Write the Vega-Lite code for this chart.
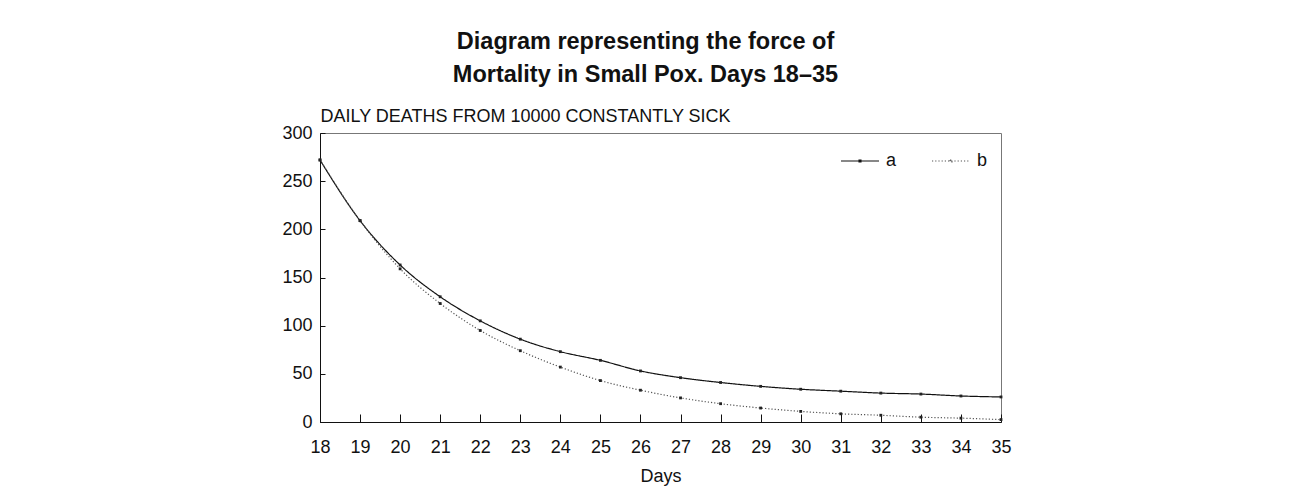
{
  "$schema": "https://vega.github.io/schema/vega-lite/v6.json",
  "width": 681,
  "height": 289,
  "autosize": {"type": "none"},
  "padding": {"left": 320, "top": 133, "right": 288, "bottom": 77},
  "background": "white",
  "title": {
    "text": ["Diagram representing the force of", "Mortality in Small Pox. Days 18–35"],
    "font": "Liberation Sans",
    "fontSize": 23.5,
    "fontWeight": "bold",
    "lineHeight": 33,
    "anchor": "middle",
    "frame": "group",
    "dx": -15,
    "dy": -17,
    "color": "#111"
  },
  "config": {
    "font": "Liberation Sans",
    "view": {"stroke": "#777", "strokeWidth": 1},
    "axis": {"grid": false, "domainColor": "#111", "tickColor": "#111", "labelColor": "#111", "titleColor": "#111", "labelFont": "Liberation Sans", "titleFont": "Liberation Sans"}
  },
  "data": {
    "values": [
      {"day": 18, "series": "a", "value": 272},
      {"day": 19, "series": "a", "value": 209},
      {"day": 20, "series": "a", "value": 163},
      {"day": 21, "series": "a", "value": 130},
      {"day": 22, "series": "a", "value": 105},
      {"day": 23, "series": "a", "value": 86},
      {"day": 24, "series": "a", "value": 73},
      {"day": 25, "series": "a", "value": 64},
      {"day": 26, "series": "a", "value": 53},
      {"day": 27, "series": "a", "value": 46},
      {"day": 28, "series": "a", "value": 41},
      {"day": 29, "series": "a", "value": 37},
      {"day": 30, "series": "a", "value": 34},
      {"day": 31, "series": "a", "value": 32},
      {"day": 32, "series": "a", "value": 30},
      {"day": 33, "series": "a", "value": 29},
      {"day": 34, "series": "a", "value": 27},
      {"day": 35, "series": "a", "value": 26},
      {"day": 18, "series": "b", "value": 272},
      {"day": 19, "series": "b", "value": 209},
      {"day": 20, "series": "b", "value": 159},
      {"day": 21, "series": "b", "value": 123},
      {"day": 22, "series": "b", "value": 95},
      {"day": 23, "series": "b", "value": 74},
      {"day": 24, "series": "b", "value": 57},
      {"day": 25, "series": "b", "value": 43},
      {"day": 26, "series": "b", "value": 33},
      {"day": 27, "series": "b", "value": 25},
      {"day": 28, "series": "b", "value": 19},
      {"day": 29, "series": "b", "value": 14.5},
      {"day": 30, "series": "b", "value": 11},
      {"day": 31, "series": "b", "value": 8.5},
      {"day": 32, "series": "b", "value": 7},
      {"day": 33, "series": "b", "value": 5},
      {"day": 34, "series": "b", "value": 4},
      {"day": 35, "series": "b", "value": 2.5}
    ]
  },
  "encoding": {
    "x": {
      "field": "day", "type": "quantitative",
      "scale": {"domain": [18, 35], "nice": false, "zero": false},
      "axis": {"values": [18,19,20,21,22,23,24,25,26,27,28,29,30,31,32,33,34,35], "title": "Days", "labelFontSize": 18, "titleFontSize": 18, "titleFontWeight": "normal", "tickSize": -8, "labelPadding": 24, "titlePadding": 11, "labelFlush": false}
    },
    "y": {
      "field": "value", "type": "quantitative",
      "scale": {"domain": [0, 300], "nice": false},
      "axis": {"values": [0, 50, 100, 150, 200, 250, 300], "title": "DAILY DEATHS FROM 10000 CONSTANTLY SICK", "titleAngle": 0, "titleAlign": "left", "titleBaseline": "alphabetic", "titleX": 0, "titleY": -12, "titleFontSize": 18, "titleFontWeight": "normal", "labelFontSize": 18, "tickSize": -5, "labelPadding": 13, "labelFlush": false}
    }
  },
  "layer": [
    {
      "mark": {"type": "line", "interpolate": "monotone", "strokeWidth": 1.2},
      "encoding": {
        "color": {
          "field": "series", "type": "nominal",
          "scale": {"domain": ["a", "b"], "range": ["#111111", "#555555"]},
          "legend": {"title": null, "orient": "none", "legendX": 520, "legendY": 8, "direction": "horizontal", "labelFontSize": 18, "labelColor": "#111", "symbolType": "M-1,0H1M-0.05,-0.05H0.05V0.05H-0.05Z", "symbolSize": 1444, "symbolStrokeWidth": 1.2, "columnPadding": 32, "labelOffset": 6}
        },
        "strokeDash": {
          "field": "series", "type": "nominal",
          "scale": {"domain": ["a", "b"], "range": [[1, 0], [1.2, 2]]},
          "legend": {"title": null, "orient": "none", "legendX": 520, "legendY": 8, "direction": "horizontal", "labelFontSize": 18, "labelColor": "#111", "symbolType": "M-1,0H1M-0.05,-0.05H0.05V0.05H-0.05Z", "symbolSize": 1444, "symbolStrokeWidth": 1.2, "columnPadding": 32, "labelOffset": 6}
        }
      }
    },
    {
      "mark": {"type": "point", "shape": "square", "filled": true, "size": 8, "color": "#222", "opacity": 1}
    }
  ]
}
